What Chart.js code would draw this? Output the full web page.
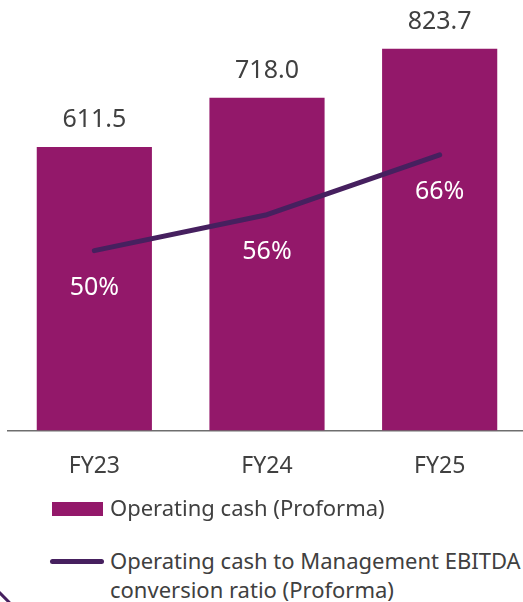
<!DOCTYPE html>
<html>
<head>
<meta charset="utf-8">
<script src="https://cdn.jsdelivr.net/npm/chart.js@4"></script>
<style>
  html, body { margin: 0; padding: 0; background: #fff; overflow: hidden; }
  body { width: 523px; height: 602px; position: relative; font-family: "Noto Sans", sans-serif; color: #404040; }
  #wrap { position: absolute; left: 0; top: 0; width: 526px; height: 502px; }
  .legend { position: absolute; left: 0; top: 0; font-size: 22px; line-height: 29px; }
  .sw { position: absolute; }
  .txt { position: absolute; left: 110px; white-space: nowrap; }
  .corner { position: absolute; left: -3px; top: 596px; width: 15px; height: 2.5px; background: #46205f; transform: rotate(45deg); }
</style>
</head>
<body>
<div id="wrap"><canvas id="chart"></canvas></div>
<div class="legend">
  <div class="sw" style="left:52px; top:502px; width:51px; height:14px; background:#93186a;"></div>
  <div class="txt" style="top:493px;">Operating cash (Proforma)</div>
  <div class="sw" style="left:50px; top:559px; width:54px; height:5px; border-radius:3px; background:#46205f;"></div>
  <div class="txt" style="top:546px;">Operating cash to Management EBITDA<br>conversion ratio (Proforma)</div>
</div>
<div class="corner"></div>
<script>
var years = ['FY23', 'FY24', 'FY25'];
var operatingCash = [611.5, 718.0, 823.7];
var conversionRatio = [50, 56, 66];

var barColor = '#93186a';
var lineColor = '#46205f';
var textColor = '#404040';
var fontFamily = '"Noto Sans", sans-serif';

// draws the value labels above the bars and under the line points
var valueLabels = {
    id: 'valueLabels',
    afterDatasetsDraw: function(chart) {
        var ctx = chart.ctx;
        ctx.save();
        ctx.textAlign = 'center';
        ctx.textBaseline = 'middle';
        ctx.font = '25px ' + fontFamily;

        var bars = chart.getDatasetMeta(1).data;
        ctx.fillStyle = textColor;
        bars.forEach(function(bar, i) {
            ctx.fillText(operatingCash[i].toFixed(1), bar.x, bar.y - 27);
        });

        var points = chart.getDatasetMeta(0).data;
        ctx.fillStyle = '#ffffff';
        points.forEach(function(pt, i) {
            ctx.fillText(conversionRatio[i] + '%', pt.x, pt.y + 37);
        });
        ctx.restore();
    }
};

var ctx = document.getElementById('chart').getContext('2d');

new Chart(ctx, {
    type: 'bar',
    data: {
        labels: years,
        datasets: [{
            type: 'line',
            label: 'Operating cash to Management EBITDA conversion ratio (Proforma)',
            data: conversionRatio,
            yAxisID: 'y2',
            borderColor: lineColor,
            borderWidth: 5,
            borderCapStyle: 'round',
            borderJoinStyle: 'round',
            pointRadius: 0,
            tension: 0,
            order: 1
        }, {
            label: 'Operating cash (Proforma)',
            data: operatingCash,
            yAxisID: 'y',
            backgroundColor: barColor,
            barPercentage: 1,
            categoryPercentage: 0.667,
            order: 2
        }]
    },
    options: {
        responsive: true,
        maintainAspectRatio: false,
        animation: false,
        layout: { padding: { top: 11, left: 8, right: 0, bottom: 0 } },
        plugins: {
            legend: { display: false },
            tooltip: { enabled: false }
        },
        scales: {
            x: {
                grid: { display: false, drawTicks: false },
                border: { display: true, color: '#6e6e6e', width: 1.5 },
                ticks: { color: textColor, font: { family: fontFamily, size: 23 }, padding: 22 }
            },
            y: { display: false, min: 0, max: 905 },
            y2: { display: false, min: 20, max: 90 }
        }
    },
    plugins: [valueLabels]
});
</script>
</body>
</html>
